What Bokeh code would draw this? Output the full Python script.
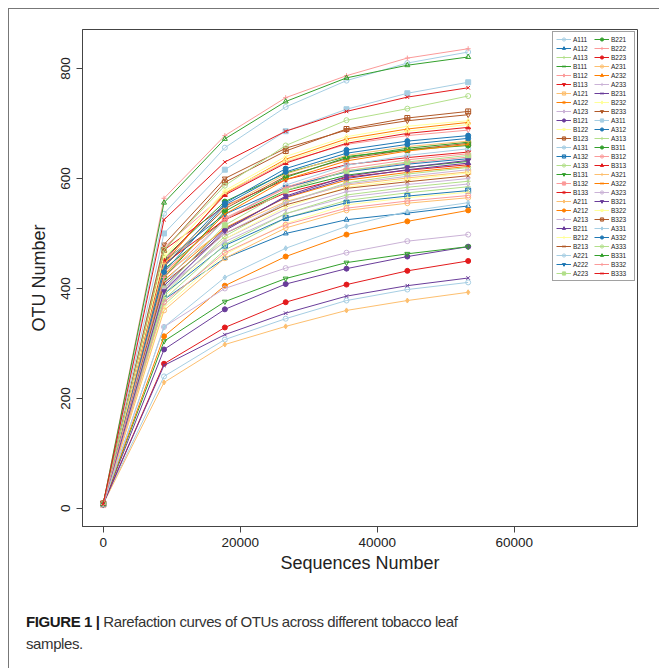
from bokeh.plotting import figure
from bokeh.models import Legend, LegendItem, Div, FixedTicker, Range1d
from bokeh.layouts import column
from bokeh.embed import file_html
from bokeh.resources import INLINE

# sequencing depths (x positions of the rarefaction points)
depths = [0, 8880, 17760, 26640, 35520, 44400, 53280]
x_ticks = [0, 20000, 40000, 60000]
y_ticks = [0, 200, 400, 600, 800]

samples = ["A111", "A112", "A113", "B111", "B112", "B113", "A121", "A122", "A123",
           "B121", "B122", "B123", "A131", "A132", "A133", "B131", "B132", "B133",
           "A211", "A212", "A213", "B211", "B212", "B213", "A221", "A222", "A223",
           "B221", "B222", "B223", "A231", "A232", "A233", "B231", "B232", "B233",
           "A311", "A312", "A313", "B311", "B312", "B313", "A321", "A322", "A323",
           "B321", "B322", "B323", "A331", "A332", "A333", "B331", "B332", "B333"]

# OTU number at each depth, per sample
A111 = [8, 240, 307, 345, 378, 398, 411]
A112 = [8, 380, 455, 500, 525, 537, 550]
A113 = [7, 370, 470, 528, 560, 574, 585]
B111 = [9, 435, 525, 578, 606, 620, 631]
B112 = [7, 475, 572, 630, 662, 678, 688]
B113 = [9, 470, 550, 598, 625, 638, 648]
A121 = [8, 425, 508, 558, 588, 601, 612]
A122 = [8, 415, 510, 565, 597, 611, 622]
A123 = [7, 395, 490, 544, 576, 589, 600]
B121 = [8, 289, 362, 408, 436, 458, 476]
B122 = [7, 385, 490, 548, 584, 598, 610]
B123 = [8, 440, 545, 604, 636, 652, 664]
A131 = [6, 410, 525, 588, 624, 642, 654]
A132 = [8, 390, 478, 528, 556, 568, 578]
A133 = [6, 390, 495, 556, 592, 608, 620]
B131 = [8, 304, 376, 418, 447, 463, 476]
B132 = [6, 430, 528, 582, 614, 628, 639]
B133 = [7, 445, 525, 574, 602, 615, 625]
A211 = [8, 229, 298, 331, 360, 378, 393]
A212 = [8, 313, 405, 458, 498, 522, 542]
A213 = [6, 400, 485, 536, 566, 579, 590]
B211 = [8, 405, 508, 566, 600, 616, 628]
B212 = [6, 365, 462, 518, 552, 565, 575]
B213 = [9, 410, 500, 552, 582, 594, 605]
A221 = [8, 536, 656, 730, 778, 810, 830]
A222 = [8, 450, 535, 584, 612, 626, 636]
A223 = [8, 400, 515, 578, 614, 630, 642]
B221 = [8, 455, 558, 610, 640, 652, 660]
B222 = [8, 564, 678, 747, 787, 819, 836]
B223 = [8, 263, 329, 375, 407, 432, 450]
A231 = [7, 360, 455, 510, 542, 555, 565]
A232 = [8, 445, 573, 635, 672, 690, 702]
A233 = [7, 400, 500, 556, 590, 604, 616]
B231 = [8, 260, 316, 355, 386, 405, 419]
B232 = [7, 455, 578, 640, 676, 695, 705]
B233 = [8, 480, 600, 655, 688, 705, 716]
A311 = [8, 500, 616, 686, 726, 755, 775]
A312 = [8, 440, 555, 618, 652, 668, 678]
A313 = [8, 380, 480, 536, 570, 584, 595]
B311 = [9, 420, 540, 602, 638, 655, 666]
B312 = [9, 375, 465, 516, 546, 559, 569]
B313 = [9, 450, 570, 628, 664, 682, 693]
A321 = [7, 445, 548, 608, 642, 658, 668]
A322 = [8, 425, 535, 598, 632, 650, 662]
A323 = [8, 330, 400, 437, 465, 486, 498]
B321 = [7, 395, 505, 568, 604, 620, 633]
B322 = [6, 460, 575, 632, 668, 686, 698]
B323 = [9, 470, 593, 650, 690, 710, 722]
A331 = [8, 330, 420, 473, 513, 540, 556]
A332 = [7, 430, 552, 612, 646, 662, 673]
A333 = [8, 470, 587, 660, 706, 727, 750]
B331 = [8, 556, 672, 740, 783, 806, 821]
B332 = [7, 420, 525, 584, 618, 634, 645]
B333 = [8, 525, 630, 686, 722, 748, 765]

series = [A111, A112, A113, B111, B112, B113, A121, A122, A123,
          B121, B122, B123, A131, A132, A133, B131, B132, B133,
          A211, A212, A213, B211, B212, B213, A221, A222, A223,
          B221, B222, B223, A231, A232, A233, B231, B232, B233,
          A311, A312, A313, B311, B312, B313, A321, A322, A323,
          B321, B322, B323, A331, A332, A333, B331, B332, B333]

# styling
paired = ["#A6CEE3", "#1F78B4", "#B2DF8A", "#33A02C", "#FB9A99", "#E31A1C",
          "#FDBF6F", "#FF7F00", "#CAB2D6", "#6A3D9A", "#FFFF99", "#B15928"]
markers = ["circle", "triangle", "cross", "x", "diamond", "inverted_triangle",
           "square_x", "asterisk", "diamond_cross", "circle_cross", "star", "square_cross",
           "circle_x", "square_x", "circle", "inverted_triangle", "square", "asterisk",
           "diamond", "circle", "diamond", "triangle", "cross", "x",
           "circle", "inverted_triangle", "square",
           "circle", "cross", "circle", "circle", "triangle", "cross",
           "x", "diamond", "inverted_triangle", "square", "circle", "cross",
           "circle", "circle", "triangle", "cross", "x", "circle",
           "inverted_triangle", "star", "square_cross", "diamond_cross", "circle", "circle",
           "triangle", "cross", "x"]
filled = [False, False, False, False, False, True,
          False, False, False, True, False, False,
          False, False, False, False, True, True,
          True, True, False, True, False, False,
          False, True, True,
          True, False, True, False, False, False,
          False, False, False, True, True, False,
          True, False, True, False, False, False,
          True, False, False, False, True, False,
          False, False, False]

FONT = "Liberation Sans"

p = figure(width=640, height=579, x_range=Range1d(-3020, 78000), y_range=Range1d(-33, 871),
           output_backend="svg", toolbar_location=None,
           min_border_left=73, min_border_right=12, min_border_top=20, min_border_bottom=62)
p.xgrid.visible = False
p.ygrid.visible = False
p.outline_line_color = "#444444"
p.outline_line_width = 1
p.background_fill_color = "white"
p.border_fill_color = "white"

p.xaxis.ticker = FixedTicker(ticks=x_ticks)
p.yaxis.ticker = FixedTicker(ticks=y_ticks)
for ax in (p.xaxis[0], p.yaxis[0]):
    ax.axis_line_color = "#444444"
    ax.major_tick_line_color = "#444444"
    ax.minor_tick_line_color = None
    ax.major_tick_out = 6
    ax.major_tick_in = 0
    ax.major_label_text_font = FONT
    ax.major_label_text_font_size = "13.5px"
    ax.major_label_text_color = "#222222"
    ax.axis_label_text_font = FONT
    ax.axis_label_text_font_size = "18px"
    ax.axis_label_text_font_style = "normal"
    ax.axis_label_text_color = "#222222"
p.xaxis.axis_label = "Sequences Number"
p.yaxis.axis_label = "OTU Number"
p.xaxis.major_label_standoff = 5
p.xaxis.axis_label_standoff = 3
p.yaxis.major_label_orientation = "vertical"
p.yaxis.major_label_standoff = 6
p.yaxis.axis_label_standoff = 10

items = []
for i, (name, vals) in enumerate(zip(samples, series)):
    col = paired[i % 12]
    lr = p.line(depths, vals, line_color=col, line_width=1.0)
    sr = p.scatter(depths, vals, marker=markers[i], size=5, line_color=col, line_width=1.0,
                   fill_color=col if filled[i] else None)
    items.append(LegendItem(label=name, renderers=[lr, sr]))

legend = Legend(items=items, ncols=2, location="top_right",
                label_text_font=FONT, label_text_font_size="6.5px", label_text_color="#222222",
                label_height=8, glyph_height=8, glyph_width=15, label_standoff=2,
                spacing=1, padding=3, margin=2,
                border_line_color="#444444", border_line_width=1,
                background_fill_color="white", background_fill_alpha=1)
p.add_layout(legend)

caption = Div(
    text='<span style="font-weight:bold;color:#1a1a1a">FIGURE 1 |</span> Rarefaction curves of OTUs across different tobacco leaf<br>samples.',
    width=640, height=79,
    styles={"font-family": "'Liberation Sans', sans-serif",
            "font-size": "15px", "letter-spacing": "-0.4px", "line-height": "22px", "color": "#333333",
            "padding-left": "12px", "padding-top": "18px", "box-sizing": "border-box"})

layout = column(p, caption, spacing=0,
                styles={"margin-left": "8px", "margin-top": "8px",
                        "border-left": "1px solid #777", "border-right": "1px solid #777",
                        "border-top": "1px solid #777", "background-color": "white"})

open("out.html", "w").write(file_html(layout, INLINE))
